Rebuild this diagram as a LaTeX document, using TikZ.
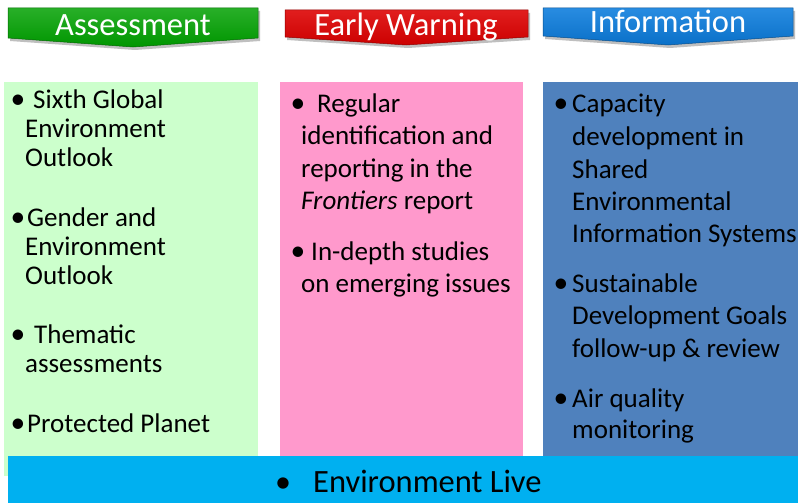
\documentclass[tikz,border=0pt]{standalone}
\usepackage{fontspec}
\setmainfont{Carlito}
\usetikzlibrary{calc}
\definecolor{colgreen}{RGB}{204,255,204}
\definecolor{colpink}{RGB}{255,153,204}
\definecolor{colblue}{RGB}{79,129,189}
\definecolor{barcyan}{RGB}{0,176,240}
\definecolor{bngreen}{RGB}{0,150,0}
\definecolor{bngreenl}{RGB}{40,175,40}
\definecolor{bnred}{RGB}{204,0,0}
\definecolor{bnredl}{RGB}{225,30,30}
\definecolor{bnblue}{RGB}{10,112,200}
\definecolor{bnbluel}{RGB}{40,140,225}
\begin{document}
\begin{tikzpicture}[x=1pt,y=-1pt,
  title/.style={text=white,font=\fontsize{32.5}{36}\selectfont,anchor=base,inner sep=0pt},
  body/.style={font=\fontsize{27}{29}\selectfont,anchor=base west,inner sep=0pt},
  bul/.style={font=\fontsize{29.5}{29}\selectfont,anchor=base,inner sep=0pt}]
\useasboundingbox (0,0) rectangle (798,503);
\fill[white] (0,0) rectangle (798,503);
% columns
\fill[colgreen] (4,82) rectangle (258,476);
\fill[colpink] (280,82) rectangle (523,470);
\fill[colblue] (543,82) rectangle (798,470);
% banners
\fill[black!25] (10,11) -- (260,11) -- (260,41) -- (135,50) -- (10,41) -- cycle;
\shade[top color=bngreenl,bottom color=bngreen,draw=bngreen!70!black,line width=0.5pt] (8,8) -- (258,8) -- (258,38) -- (133,47) -- (8,38) -- cycle;
\fill[black!25] (287,13) -- (530,13) -- (530,40) -- (408,48) -- (287,40) -- cycle;
\shade[top color=bnredl,bottom color=bnred,draw=bnred!70!black,line width=0.5pt] (285,10) -- (528,10) -- (528,37) -- (406,45) -- (285,37) -- cycle;
\fill[black!25] (545,11) -- (795,11) -- (795,39) -- (670,48) -- (545,39) -- cycle;
\shade[top color=bnbluel,bottom color=bnblue,draw=bnblue!70!black,line width=0.5pt] (543,8) -- (793,8) -- (793,36) -- (668,45) -- (543,36) -- cycle;
\node[title] (t1) at (133,36) {Assessment};
\node[title] (t2) at (406,36) {Early Warning};
\node[title] (t3) at (668,33) {Information};
% green column text
\node[bul] (gb1) at (18,108) {•};
\node[body] (g1a) at (33,108) {Sixth Global};
\node[body] (g1b) at (25,137) {Environment};
\node[body] (g1c) at (25,166) {Outlook};
\node[bul] (gb2) at (18,226) {•};
\node[body] (g2a) at (27,226) {Gender and};
\node[body] (g2b) at (25,255) {Environment};
\node[body] (g2c) at (25,284) {Outlook};
\node[bul] (gb3) at (18,343) {•};
\node[body] (g3a) at (34,343) {Thematic};
\node[body] (g3b) at (25,372) {assessments};
\node[bul] (gb4) at (18,432) {•};
\node[body] (g4a) at (27,432) {Protected Planet};
% pink column text
\node[bul] (pb1) at (298,112) {•};
\node[body] (p1a) at (317,112) {Regular};
\node[body] (p1b) at (301,144) {identification and};
\node[body] (p1c) at (301,177) {reporting in the};
\node[body] (p1d) at (301,209) {\textit{Frontiers} report};
\node[bul] (pb2) at (298,260) {•};
\node[body] (p2a) at (311,260) {In-depth studies};
\node[body] (p2b) at (301,292) {on emerging issues};
% blue column text
\node[bul] (bb1) at (561,113) {•};
\node[body] (b1a) at (572,113) {Capacity};
\node[body] (b1b) at (572,145) {development in};
\node[body] (b1c) at (572,178) {Shared};
\node[body] (b1d) at (572,210) {Environmental};
\node[body] (b1e) at (572,242) {Information Systems};
\node[bul] (bb2) at (561,292) {•};
\node[body] (b2a) at (572,292) {Sustainable};
\node[body] (b2b) at (572,324) {Development Goals};
\node[body] (b2c) at (572,357) {follow-up \& review};
\node[bul] (bb3) at (561,407) {•};
\node[body] (b3a) at (572,407) {Air quality};
\node[body] (b3b) at (572,438) {monitoring};
% bottom bar
\fill[barcyan] (8,456) rectangle (798,503);
\node[bul,font=\fontsize{32}{36}\selectfont] (lb) at (283,492) {•};
\node[body,font=\fontsize{32.5}{36}\selectfont] (live) at (313,492) {Environment Live};
\end{tikzpicture}
\end{document}
